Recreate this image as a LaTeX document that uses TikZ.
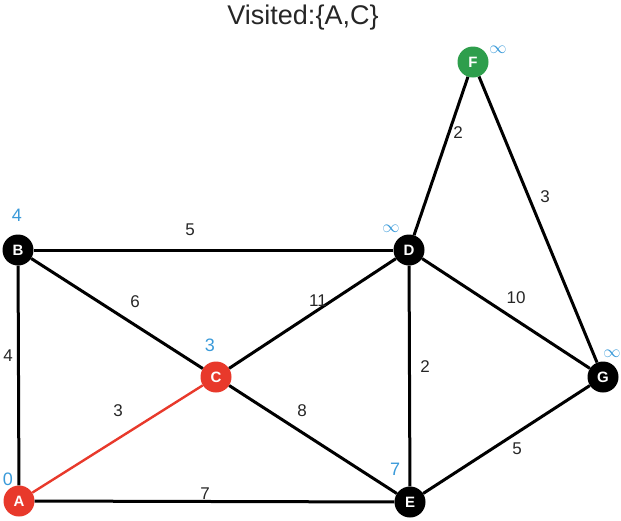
\documentclass[tikz,border=0pt]{standalone}
\usepackage{fontspec}
\setmainfont{Liberation Sans}
\definecolor{nred}{HTML}{E8392B}
\definecolor{ngreen}{HTML}{2E9E4C}
\definecolor{nblue}{HTML}{3A9AD9}
\begin{document}
\begin{tikzpicture}[x=1pt,y=-1pt,
  vert/.style={circle,fill=black,text=white,font=\bfseries\fontsize{15}{15}\selectfont,minimum size=31pt,inner sep=0pt},
  edge/.style={line width=3pt,black},
  redge/.style={line width=2.4pt,nred},
  wt/.style={font=\fontsize{17}{17}\selectfont,text=black!85},
  dist/.style={font=\fontsize{18}{18}\selectfont,text=nblue}]
\useasboundingbox (0,0) rectangle (621,520);
\node[font=\fontsize{27}{27}\selectfont,text=black!85] (title) at (303,18) {Visited:\{A,C\}};
\node[vert,fill=nred] (A) at (19,501) {A};
\node[vert] (B) at (18,250) {B};
\node[vert,fill=nred] (C) at (216,377) {C};
\node[vert] (D) at (409,250) {D};
\node[vert] (E) at (410,502) {E};
\node[vert,fill=ngreen] (F) at (473,62) {F};
\node[vert] (G) at (603,377) {G};
\draw[edge] (B) -- (D);
\draw[edge] (B) -- (C);
\draw[edge] (B) -- (A);
\draw[edge] (A) -- (E);
\draw[edge] (C) -- (D);
\draw[edge] (C) -- (E);
\draw[edge] (D) -- (E);
\draw[edge] (D) -- (G);
\draw[edge] (D) -- (F);
\draw[edge] (F) -- (G);
\draw[edge] (E) -- (G);
\draw[redge] (A) -- (C);
\node[wt] (w1) at (190,230) {5};
\node[wt] (w2) at (135,302) {6};
\node[wt] (w3) at (318,301) {11};
\node[wt] (w4) at (8,356) {4};
\node[wt] (w5) at (118,411) {3};
\node[wt] (w6) at (302,411) {8};
\node[wt] (w7) at (425,367) {2};
\node[wt] (w8) at (516,298) {10};
\node[wt] (w9) at (458,133) {2};
\node[wt] (w10) at (545,197) {3};
\node[wt] (w11) at (517,449) {5};
\node[wt] (w12) at (205,494) {7};
\node[dist] (dA) at (8,479) {0};
\node[dist] (dB) at (17,215) {4};
\node[dist] (dC) at (210,345) {3};
\node[dist] (dD) at (391,229) {$\infty$};
\node[dist] (dE) at (395,469) {7};
\node[dist] (dF) at (498,50) {$\infty$};
\node[dist] (dG) at (612,354) {$\infty$};
\end{tikzpicture}
\end{document}
